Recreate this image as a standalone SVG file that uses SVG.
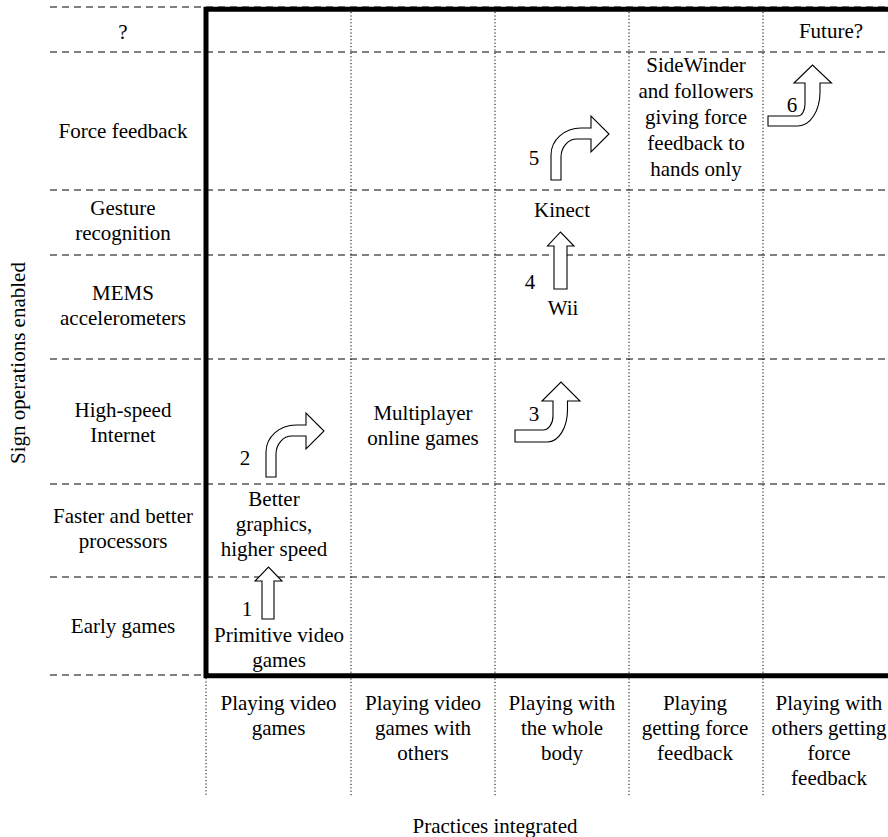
<svg xmlns="http://www.w3.org/2000/svg" width="888" height="837" viewBox="0 0 888 837">
<style>
text{font-family:"Liberation Serif","Times New Roman",serif;font-size:21px;fill:#000;text-anchor:middle}
.dash{stroke:#000;stroke-width:1;stroke-dasharray:7 5;fill:none}
.dot{stroke:#000;stroke-width:1;stroke-dasharray:1.2 2.2;fill:none}
.thick{stroke:#000;stroke-width:5;fill:none}
.arr{fill:#fff;stroke:#000;stroke-width:1.1;stroke-linejoin:miter}
</style>
<defs>
<path id="turn" d="M266,477 L266,452 A30,27 0 0 1 296,425 L306,425 L306,413 L324,431 L306,449 L306,436 L292,436 A16,18 0 0 0 276,454 L276,477 Z"/>
<path id="turnup" d="M515,430 L543,430 A10,14 0 0 0 553,416 L553,401 L542,401 L561,382 L580,401 L567.5,401 L567.5,410 A20,32 0 0 1 547.5,442 L515,442 Z"/>
</defs>
<g id="grid">
<line class="dash" x1="50" y1="7" x2="888" y2="7"/>
<line class="dash" x1="50" y1="52" x2="888" y2="52"/>
<line class="dash" x1="50" y1="190" x2="888" y2="190"/>
<line class="dash" x1="50" y1="255" x2="888" y2="255"/>
<line class="dash" x1="50" y1="359" x2="888" y2="359"/>
<line class="dash" x1="50" y1="484" x2="888" y2="484"/>
<line class="dash" x1="50" y1="577" x2="888" y2="577"/>
<line class="dash" x1="50" y1="675" x2="888" y2="675"/>
<line class="dot" x1="351" y1="12" x2="351" y2="797"/>
<line class="dot" x1="495" y1="12" x2="495" y2="797"/>
<line class="dot" x1="629" y1="12" x2="629" y2="797"/>
<line class="dot" x1="763" y1="12" x2="763" y2="797"/>
<line class="dot" x1="206" y1="678" x2="206" y2="797"/>
<path class="thick" d="M888,9.2 L206,9.2 L206,675.8 L888,675.8"/>
</g>
<g id="axis-labels">
<text transform="translate(25,363) rotate(-90)">Sign operations enabled</text>
<text x="495" y="833">Practices integrated</text>
</g>
<g id="row-labels">
<text x="123" y="39">?</text>
<text x="123" y="138">Force feedback</text>
<text x="123" y="215">Gesture</text>
<text x="123" y="240">recognition</text>
<text x="123" y="300">MEMS</text>
<text x="123" y="325">accelerometers</text>
<text x="123" y="417">High-speed</text>
<text x="123" y="442">Internet</text>
<text x="123" y="523">Faster and better</text>
<text x="123" y="548">processors</text>
<text x="123" y="633">Early games</text>
</g>
<g id="col-labels">
<text x="278.5" y="710">Playing video</text>
<text x="278.5" y="735">games</text>
<text x="423" y="710">Playing video</text>
<text x="423" y="735">games with</text>
<text x="423" y="760">others</text>
<text x="562" y="710">Playing with</text>
<text x="562" y="735">the whole</text>
<text x="562" y="760">body</text>
<text x="695" y="710">Playing</text>
<text x="695" y="735">getting force</text>
<text x="695" y="760">feedback</text>
<text x="829" y="710">Playing with</text>
<text x="829" y="735">others getting</text>
<text x="829" y="760">force</text>
<text x="829" y="785">feedback</text>
</g>
<g id="node-primitive"><text x="279" y="642">Primitive video</text><text x="279" y="667">games</text></g>
<g id="node-better"><text x="274" y="506">Better</text><text x="274" y="531">graphics,</text><text x="274" y="556">higher speed</text></g>
<g id="node-multiplayer"><text x="423" y="420">Multiplayer</text><text x="423" y="445">online games</text></g>
<g id="node-wii"><text x="563" y="315">Wii</text></g>
<g id="node-kinect"><text x="562" y="217">Kinect</text></g>
<g id="node-sidewinder">
<text x="696" y="72">SideWinder</text>
<text x="696" y="98">and followers</text>
<text x="696" y="124">giving force</text>
<text x="696" y="150">feedback to</text>
<text x="696" y="176">hands only</text>
</g>
<g id="node-future"><text x="831" y="38">Future?</text></g>
<g id="connectors">
<path class="arr" d="M262,619 L262,581 L255,581 L268.5,567 L282,581 L274,581 L274,619 Z"/>
<use href="#turn" class="arr"/>
<use href="#turnup" class="arr"/>
<path class="arr" d="M554,289 L554,246 L547.5,246 L560.5,232 L574,246 L567,246 L567,289 Z"/>
<use href="#turn" class="arr" transform="translate(285,-297)"/>
<path class="arr" d="M768,116 L798,116 A7,12 0 0 0 805,104 L805,83 L794,83 L812.5,65 L831.5,83 L820,83 L820,92 A22,34 0 0 1 798,126 L768,126 Z"/>
<text x="247" y="616">1</text>
<text x="245" y="465">2</text>
<text x="534" y="421">3</text>
<text x="530" y="289">4</text>
<text x="534" y="165">5</text>
<text x="792" y="112">6</text>
</g>
</svg>
